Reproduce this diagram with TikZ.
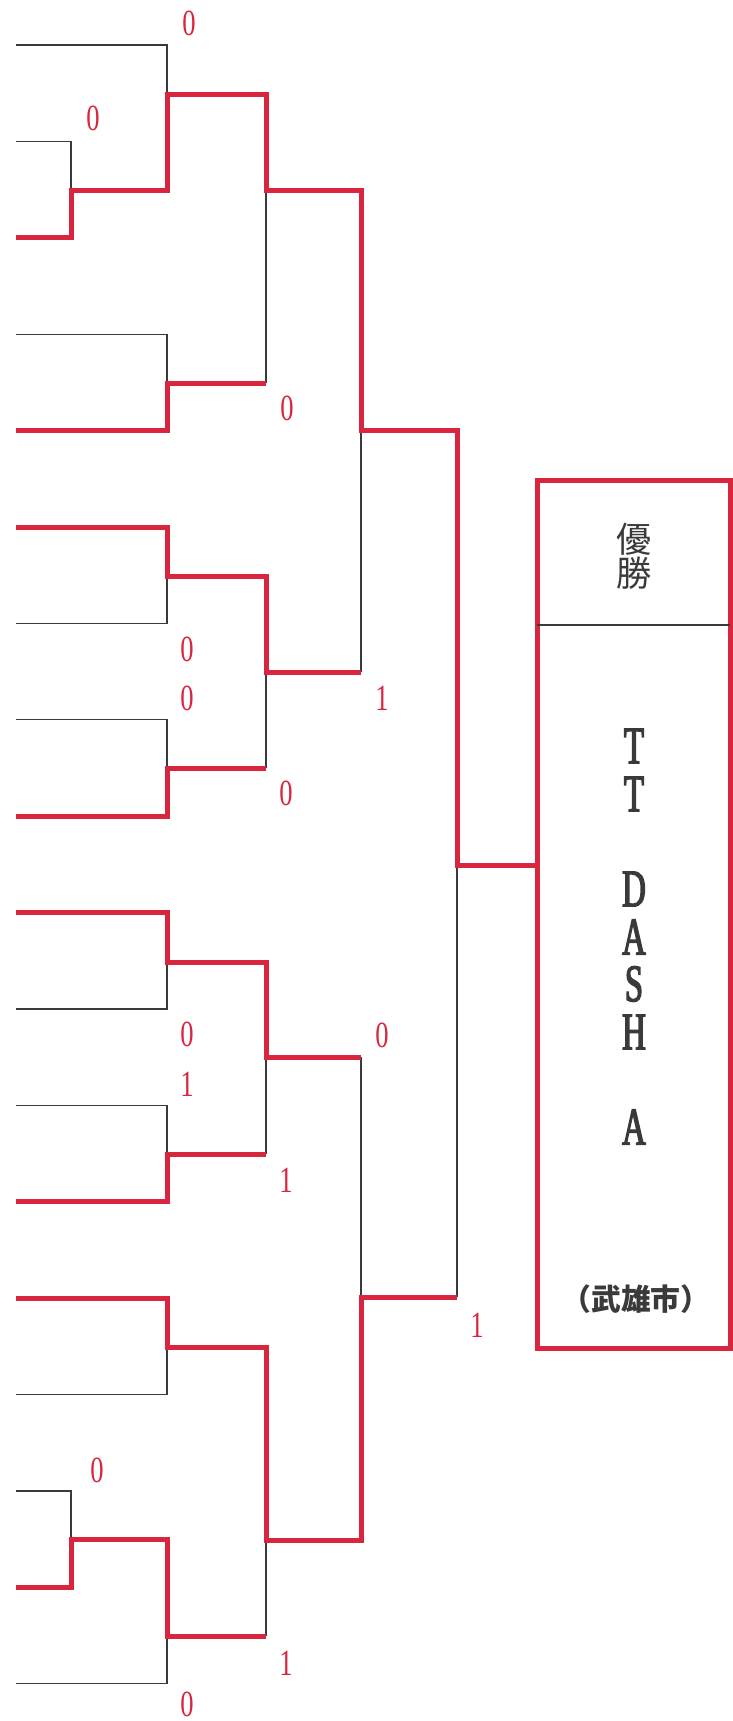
\documentclass[tikz,border=0pt]{standalone}
\usepackage{fontspec}
\usepackage{tikz}
\usetikzlibrary{calc}
\definecolor{MyRed}{HTML}{D9263F}
\definecolor{MyGray}{HTML}{3A3A3A}
\newfontfamily\scorefont[FakeStretch=0.72]{Liberation Serif}
\newfontfamily\teamfont[FakeStretch=0.62, FakeBold=2.5]{Liberation Serif}
\newfontfamily\cjk{Noto Sans CJK JP}
\tikzset{
	loser/.style={MyGray, line width=0.25mm},
	winner/.style={MyRed, line width=1mm, line join=miter},
	score/.style={MyRed, inner sep=0pt, font=\scorefont\fontsize{21}{21}\selectfont},
	boxtext/.style={MyGray, inner sep=0pt, align=center},
	letter/.style={boxtext, font=\teamfont\fontsize{30}{30}\selectfont},
}

\begin{document}
\begin{tikzpicture}[x=0.2mm, y=-0.2mm]
			\useasboundingbox (0,0) rectangle (733,1721);
			% entry lines
			\foreach \i in {1,...,18}
				\coordinate (e\i) at (16,{45+(\i-1)*96.4});
			
			% lost matches
			\draw[loser] (e1) -| (167,94);
			\draw[loser] (e2) -| (71,190);
			\draw[loser] (e4) -| (167,383);
			\draw[loser] (266,190) -- (266,383);
			\draw[loser] (e7) -| (167,576);
			\draw[loser] (e8) -| (167,768);
			\draw[loser] (266,672) -- (266,768);
			\draw[loser] (361,430) -- (361,672);
			\draw[loser] (e11) -| (167,962);
			\draw[loser] (e12) -| (167,1154);
			\draw[loser] (266,1057) -- (266,1154);
			\draw[loser] (361,1057) -- (361,1297);
			\draw[loser] (e15) -| (167,1347);
			\draw[loser] (e16) -| (71,1539);
			\draw[loser] (e18) -| (167,1636);
			\draw[loser] (266,1540) -- (266,1636);
			\draw[loser] (457,865) -- (457,1297);
			
			% winners
			\draw[winner] (e3) -| (71,190) -| (167,94) -| (266,190) -| (361,430) -| (457,865) -- (537,865);
			\draw[winner] (e5) -| (167,383) -- (266,383);
			\draw[winner] (e6) -| (167,576) -| (266,672) -- (361,672);
			\draw[winner] (e9) -| (167,768) -- (266,768);
			\draw[winner] (e10) -| (167,962) -| (266,1057) -- (361,1057);
			\draw[winner] (e13) -| (167,1154) -- (266,1154);
			\draw[winner] (e14) -| (167,1347) -| (266,1540) -| (361,1297) -- (457,1297);
			\draw[winner] (e17) -| (71,1539) -| (167,1636) -- (266,1636);
			
			% scores
			\node[score] (s1) at (189,23) {0};
			\node[score] (s2) at (93,118) {0};
			\node[score] (s3) at (287,408) {0};
			\node[score] (s4) at (187,649) {0};
			\node[score] (s5) at (187,698) {0};
			\node[score] (s6) at (286,793) {0};
			\node[score] (s7) at (382,698) {1};
			\node[score] (s8) at (187,1034) {0};
			\node[score] (s9) at (187,1084) {1};
			\node[score] (s10) at (286,1180) {1};
			\node[score] (s11) at (382,1035) {0};
			\node[score] (s12) at (97,1470) {0};
			\node[score] (s13) at (286,1663) {1};
			\node[score] (s14) at (187,1704) {0};
			\node[score] (s15) at (477,1325) {1};
			
			% champion box
			\draw[winner] (537,480) rectangle (730,1348);
			\draw[loser] (537,625) -- (730,625);
			\node[boxtext, font=\cjk\fontsize{20}{17.5}\selectfont] (title) at (634,556) {優\\勝};
			\foreach \c/\y [count=\k] in {T/746, T/794, D/889, A/937, S/984, H/1032, A/1127}
				\node[letter] (t\k) at (634,\y) {\c};
			\node[boxtext, font=\cjk\bfseries\fontsize{17}{17}\selectfont] (city) at (636,1299) {（武雄市）};
		\end{tikzpicture}
\end{document}
